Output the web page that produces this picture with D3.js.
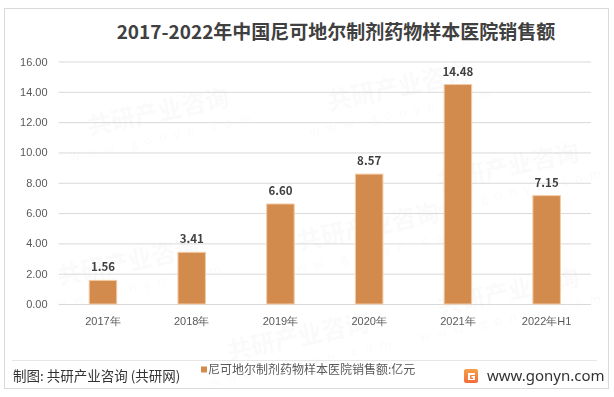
<!DOCTYPE html>
<html>
<head>
<meta charset="utf-8">
<script src="https://cdn.jsdelivr.net/npm/d3@7"></script>
<style>
  body { margin: 0; background: #fff; }
  svg { display: block; font-family: "Noto Sans CJK SC", "Noto Sans", sans-serif; }
</style>
</head>
<body>
<svg class="bar-chart"></svg>
<script>
const years = ["2017年", "2018年", "2019年", "2020年", "2021年", "2022年H1"];
const sales = [1.56, 3.41, 6.60, 8.57, 14.48, 7.15];
const yTicks = [0, 2, 4, 6, 8, 10, 12, 14, 16];
const title = "2017-2022年中国尼可地尔制剂药物样本医院销售额";
const seriesName = "尼可地尔制剂药物样本医院销售额:亿元";
const source = "制图: 共研产业咨询 (共研网)";
const site = "www.gonyn.com";

const width = 614, height = 397;
const margin = {top: 61.5, right: 23, bottom: 93, left: 58.6};
const barColor = "#d38b4d";

const svg = d3.select(".bar-chart")
    .attr("width", width)
    .attr("height", height);

const data = years.map((y, i) => ({year: y, value: sales[i]}));

const x = d3.scaleBand()
    .domain(years)
    .range([margin.left, width - margin.right])
    .paddingInner(0.69)
    .paddingOuter(0.345);

const y = d3.scaleLinear()
    .domain([0, 16])
    .range([height - margin.bottom, margin.top]);

// outer frame
svg.append("rect")
    .attr("x", 4.5).attr("y", 8.5)
    .attr("width", 604).attr("height", 380)
    .attr("fill", "#fff")
    .attr("stroke", "#d9d9d9");

// faint watermarks, kept inside the frame
const marks = [[160, 120], [400, 95], [130, 270], [370, 235], [510, 175], [300, 345], [510, 300]];
const wm = svg.append("g").attr("fill", "#000").attr("opacity", 0.022)
    .style("font-weight", "bold");
marks.forEach(([mx, my]) => {
  const g = wm.append("g").attr("transform", `translate(${mx},${my}) rotate(-12)`);
  g.append("text").attr("font-size", 24).attr("text-anchor", "middle").text("共研产业咨询");
  g.append("text").attr("y", 22).attr("font-size", 13).attr("text-anchor", "middle")
      .attr("letter-spacing", 7).style("font-weight", "normal").text("www.gonyn.com");
});

// title
svg.append("text")
    .attr("x", 336).attr("y", 32).attr("dy", "0.35em")
    .attr("text-anchor", "middle")
    .attr("fill", "#404040")
    .style("font-size", "19px").style("font-weight", "bold")
    .text(title);

// y axis + gridlines
const yAxis = g => g
    .attr("transform", `translate(${margin.left},0)`)
    .call(d3.axisLeft(y).tickValues(yTicks).tickFormat(d3.format(".2f"))
        .tickSize(-(width - margin.left - margin.right)).tickPadding(11))
    .call(g => g.select(".domain").remove())
    .call(g => g.selectAll(".tick line").attr("stroke", "#d9d9d9"))
    .call(g => g.selectAll(".tick text").attr("fill", "#595959")
        .style("font-size", "11px").style("font-family", "inherit"));
svg.append("g").call(yAxis);

// x axis labels
const xAxis = g => g
    .attr("transform", `translate(0,${height - margin.bottom})`)
    .call(d3.axisBottom(x).tickSize(0).tickPadding(13))
    .call(g => g.select(".domain").remove())
    .call(g => g.selectAll(".tick text").attr("fill", "#595959")
        .style("font-size", "11px").style("font-family", "inherit"));
svg.append("g").call(xAxis);

// bars
svg.append("g")
    .attr("fill", barColor)
    .attr("stroke", "#f3cba6")
    .attr("stroke-width", 1)
    .selectAll("rect")
      .data(data)
    .enter().append("rect")
      .attr("x", d => x(d.year))
      .attr("y", d => y(d.value))
      .attr("width", x.bandwidth())
      .attr("height", d => y(0) - y(d.value));

// value labels
svg.append("g")
    .attr("fill", "#404040")
    .attr("text-anchor", "middle")
    .style("font-size", "11.5px").style("font-weight", "bold")
    .selectAll("text")
      .data(data)
    .enter().append("text")
      .attr("x", d => x(d.year) + x.bandwidth() / 2)
      .attr("y", d => y(d.value) - 9)
      .text(d => d.value.toFixed(2));

// footer separator
svg.append("line")
    .attr("x1", 12).attr("x2", 597)
    .attr("y1", 360.5).attr("y2", 360.5)
    .attr("stroke", "#e6e6e6");

// legend
const legend = svg.append("g").attr("transform", "translate(201,370)");
legend.append("rect")
    .attr("x", 0).attr("y", -3.5)
    .attr("width", 6).attr("height", 6)
    .attr("fill", barColor);
legend.append("text")
    .attr("x", 7).attr("dy", "0.35em")
    .attr("fill", "#595959")
    .style("font-size", "12px")
    .text(seriesName);

// source note
svg.append("text")
    .attr("x", 13).attr("y", 376).attr("dy", "0.35em")
    .attr("fill", "#333")
    .style("font-size", "13.5px")
    .text(source);

// site logo
const defs = svg.append("defs");
const grad = defs.append("linearGradient").attr("id", "logoGrad")
    .attr("x1", 0).attr("y1", 0).attr("x2", 0).attr("y2", 1);
grad.append("stop").attr("offset", "0%").attr("stop-color", "#f6a04a");
grad.append("stop").attr("offset", "100%").attr("stop-color", "#f06d3a");
const logo = svg.append("g").attr("transform", "translate(464,369)");
logo.append("rect").attr("width", 14).attr("height", 14).attr("rx", 2)
    .attr("fill", "url(#logoGrad)");
logo.append("path")
    .attr("d", "M4,4 H11 V6 H6 V10 H9 V8.5 H7.5 V7 H11 V11 H4 Z")
    .attr("fill", "#fff");

svg.append("text")
    .attr("x", 487).attr("y", 376).attr("dy", "0.35em")
    .attr("fill", "#333")
    .style("font-family", "'Noto Sans', sans-serif")
    .style("font-size", "15px")
    .text(site);
</script>
</body>
</html>
